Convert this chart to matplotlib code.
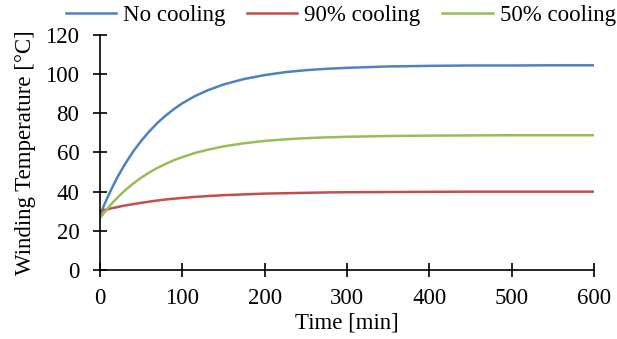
import matplotlib
matplotlib.use('Agg')
import matplotlib.pyplot as plt

plt.rcParams['font.family'] = ['Liberation Serif', 'DejaVu Serif']

# time points [min] and temperatures
t = [0, 5, 10, 15, 20, 25, 30, 40, 50, 60, 70, 80, 90, 100, 115, 130, 150, 175, 200,
     225, 250, 275, 300, 350, 400, 450, 500, 550, 600]
no_cooling = [28.0, 33.1, 37.8, 42.2, 46.4, 50.2, 53.8, 60.3, 65.9, 70.8, 75.2, 78.9, 82.2,
              85.1, 88.7, 91.6, 94.7, 97.5, 99.5, 101.0, 102.0, 102.7, 103.2, 103.9, 104.2,
              104.4, 104.4, 104.5, 104.5]
cool_90 = [30.0, 30.6, 31.1, 31.6, 32.0, 32.5, 32.9, 33.6, 34.3, 34.9, 35.5, 36.0, 36.4,
           36.8, 37.3, 37.7, 38.2, 38.6, 39.0, 39.2, 39.4, 39.6, 39.7, 39.8, 39.9,
           40.0, 40.0, 40.0, 40.0]
cool_50 = [26.5, 29.2, 31.8, 34.2, 36.4, 38.5, 40.5, 44.0, 47.1, 49.8, 52.2, 54.2, 56.1,
           57.6, 59.7, 61.3, 63.1, 64.7, 65.9, 66.7, 67.3, 67.7, 68.0, 68.4, 68.6,
           68.7, 68.8, 68.8, 68.8]

fs = 16.5
fig = plt.figure(figsize=(6.17, 3.39), dpi=100)
ax = fig.add_axes([0.162, 0.2035, 0.801, 0.6935])

ax.plot(t, no_cooling, color='#4F81BD', linewidth=1.8, label='No cooling')
ax.plot(t, cool_90, color='#C0504D', linewidth=1.8, label='90% cooling')
ax.plot(t, cool_50, color='#9BBB59', linewidth=1.8, label='50% cooling')

ax.set_xlim(0, 600)
ax.set_ylim(0, 120)
ax.set_xticks(range(0, 601, 100))
ax.set_yticks(range(0, 121, 20))
ax.spines['top'].set_visible(False)
ax.spines['right'].set_visible(False)
ax.spines['left'].set_linewidth(1.2)
ax.spines['bottom'].set_linewidth(1.2)
ax.tick_params(direction='inout', length=9.5, width=1.2, labelsize=fs)
ax.tick_params(axis='x', pad=8)
ax.tick_params(axis='y', pad=10)
ax.set_xlabel('Time [min]', fontsize=fs, labelpad=3)
ax.set_ylabel('Winding Temperature [°C]', fontsize=fs, labelpad=7)

fig.legend(loc='upper center', bbox_to_anchor=(0.552, 1.045), ncol=3, frameon=False,
           fontsize=fs, handlelength=2.2, columnspacing=0.95, handletextpad=0.3)

fig.savefig('out.png', dpi=100)
